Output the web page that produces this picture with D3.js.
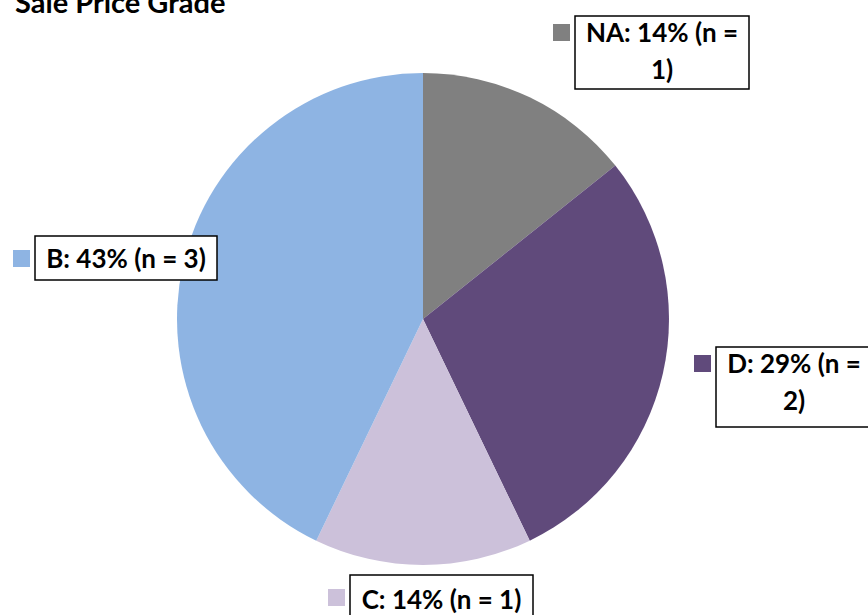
<!doctype html>
<html>
  <head>
    <meta charset="utf-8">
    <title>Sale Price Grade</title>
    <script src="https://cdnjs.cloudflare.com/ajax/libs/d3/7.8.5/d3.min.js"></script>
    <style>
      body { margin: 0; background: #fff; }
      text { font-family: Lato, "Open Sans", sans-serif; font-weight: bold; fill: #000; }
    </style>
  </head>
  <body>
    <div id="chart"></div>
    <script>
      // data
      const grades = ['NA', 'D', 'C', 'B'];
      const counts = [1, 2, 1, 3];
      const colors = ['#808080', '#604A7B', '#CCC1DA', '#8EB4E3'];

      // where each label box sits (box left, top, width, height, lines)
      const labelBoxes = [
        {x: 575, y: 16, w: 174, h: 73, lines: 2},
        {x: 716, y: 347, w: 156, h: 80, lines: 2},
        {x: 350, y: 575, w: 183, h: 48, lines: 1},
        {x: 35, y: 236, w: 182, h: 44, lines: 1}
      ];

      const width = 868, height = 615;
      const cx = 423, cy = 319, radius = 246;

      const svg = d3.select('#chart').append('svg')
        .attr('width', width)
        .attr('height', height);

      svg.append('text')
        .attr('x', 15)
        .attr('y', 13)
        .style('font-size', '29px')
        .text('Sale Price Grade');

      const total = d3.sum(counts);
      const data = grades.map((g, i) => ({grade: g, n: counts[i], color: colors[i]}));

      const pie = d3.pie().value(d => d.n).sort(null);
      const arc = d3.arc().innerRadius(0).outerRadius(radius);

      svg.append('g')
        .attr('transform', `translate(${cx},${cy})`)
        .selectAll('path')
        .data(pie(data))
        .join('path')
        .attr('d', arc)
        .attr('fill', d => d.data.color);

      const pct = d3.format('.0%');

      data.forEach((d, i) => {
        const b = labelBoxes[i];
        const g = svg.append('g');
        g.append('rect')
          .attr('x', b.x).attr('y', b.y)
          .attr('width', b.w).attr('height', b.h)
          .attr('fill', '#fff')
          .attr('stroke', '#000')
          .attr('stroke-width', 1.5);
        g.append('rect')
          .attr('x', b.x - 22).attr('y', b.y + (b.lines === 2 ? 8 : 14))
          .attr('width', 17).attr('height', 17)
          .attr('fill', d.color);
        const label = `${d.grade}: ${pct(d.n / total)} (n = ${d.n})`;
        let parts = [label];
        if (b.lines === 2) {
          const cut = label.lastIndexOf(' ');
          parts = [label.slice(0, cut), label.slice(cut + 1)];
        }
        g.selectAll('text.lbl')
          .data(parts)
          .join('text')
          .attr('class', 'lbl')
          .attr('x', b.x + b.w / 2)
          .attr('y', (t, j) => b.y + (b.lines === 2 ? 17 : b.h / 2 + 1) + j * 37)
          .attr('dy', '0.36em')
          .attr('text-anchor', 'middle')
          .style('font-size', '26px')
          .text(t => t);
      });
    </script>
  </body>
</html>
